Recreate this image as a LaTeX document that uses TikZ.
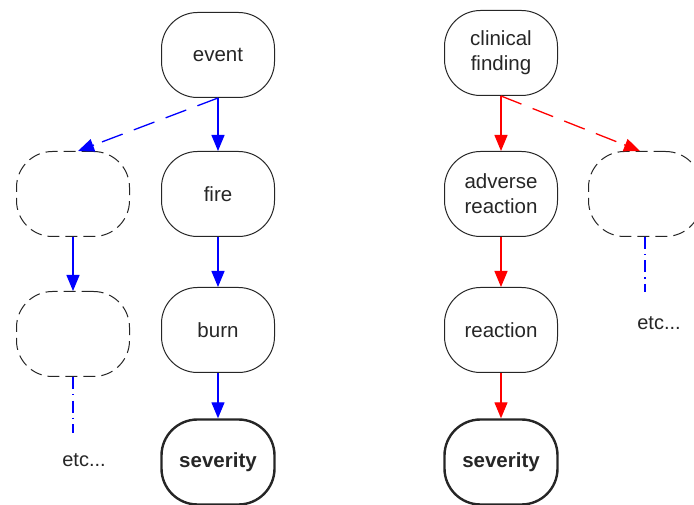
\documentclass[tikz,border=0pt]{standalone}
\usepackage{fontspec}
\setmainfont{Liberation Sans}
\usetikzlibrary{arrows.meta,calc}
\begin{document}
\begin{tikzpicture}[x=1pt,y=1pt,
  box/.style={draw=black!85, line width=1pt, rounded corners=36pt, minimum width=113pt, minimum height=85pt, inner sep=0pt, align=center, font=\fontsize{20.5}{25}\selectfont, text=black!85},
  sevbox/.style={box, line width=2.4pt, font=\fontsize{20.5}{25}\selectfont\bfseries},
  dbox/.style={box, dash pattern=on 12pt off 6pt},
  tip/.style={-{Triangle[length=16pt,width=13pt]}},
  barrow/.style={tip, draw=blue, fill=blue, line width=1.3pt},
  rarrow/.style={tip, draw=red, fill=red, line width=1.3pt},
  bline/.style={draw=blue, line width=1.3pt, dash pattern=on 22pt off 12pt},
  rline/.style={draw=red, line width=1.3pt, dash pattern=on 22pt off 12pt},
  dotdash/.style={draw=blue, line width=1.3pt, dash pattern=on 12pt off 5pt on 1.5pt off 5pt},
  etcl/.style={font=\fontsize{20}{24}\selectfont, text=black!85}
]
\useasboundingbox (0,0) rectangle (694,504);
% left group
\node[box] (event) at (218,449) {event};
\node[box] (fire) at (218,310) {fire};
\node[box] (burn) at (218,174) {burn};
\node[sevbox] (sev1) at (218,42) {severity};
\node[dbox] (d1) at (73,310) {};
\node[dbox] (d2) at (73,170) {};
\coordinate (t1) at ([xshift=5pt]d1.north);
\coordinate (e1) at (73,71);
\node[etcl] (etc1) at (84,44) {etc...};
\draw[barrow] (event.south) -- (fire.north);
\draw[barrow] (fire.south) -- (burn.north);
\draw[barrow] (burn.south) -- (sev1.north);
\draw[bline] (event.south) -- ($(t1)!15pt!(event.south)$);
\draw[barrow] ($(t1)!17pt!(event.south)$) -- (t1);
\draw[barrow] (d1.south) -- (d2.north);
\draw[dotdash] (d2.south) -- (e1);
% right group
\node[box] (clin) at (501,451) {clinical\\finding};
\node[box] (adv) at (501,310) {adverse\\reaction};
\node[box] (reac) at (501,174) {reaction};
\node[sevbox] (sev2) at (501,42) {severity};
\node[dbox] (dR) at (645,310) {};
\coordinate (t2) at ([xshift=-5pt]dR.north);
\coordinate (e2) at (645,212);
\node[etcl] (etc2) at (659,181) {etc...};
\draw[rarrow] (clin.south) -- (adv.north);
\draw[rarrow] (adv.south) -- (reac.north);
\draw[rarrow] (reac.south) -- (sev2.north);
\draw[rline] (clin.south) -- ($(t2)!15pt!(clin.south)$);
\draw[rarrow] ($(t2)!17pt!(clin.south)$) -- (t2);
\draw[dotdash] (dR.south) -- (e2);
\end{tikzpicture}
\end{document}
